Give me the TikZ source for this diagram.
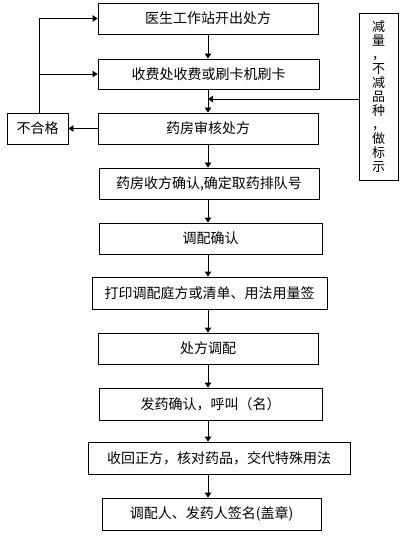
\documentclass[tikz,border=0pt]{standalone}
\usepackage{fontspec}
\setmainfont{Noto Sans CJK SC}
\usepackage{tikz}
\usetikzlibrary{arrows.meta,positioning,calc}
\tikzset{
  basebox/.style={rectangle,draw=black,line width=0.8pt,align=center,inner sep=0pt,
                  font=\fontsize{14}{16}\selectfont},
  procnode/.style={basebox,minimum width=220pt,minimum height=31pt},
  failnode/.style={basebox,minimum width=61pt,minimum height=31pt},
  sidenode/.style={basebox,minimum width=39pt,minimum height=167pt,
                   font=\fontsize{13}{14}\selectfont},
  arr/.style={-{Triangle[length=5pt,width=6.5pt]},line width=0.8pt,color=black},
  plain/.style={line width=0.8pt,color=black}
}

\begin{document}
\begin{tikzpicture}[x=1pt,y=-1pt]
  \useasboundingbox (0,0) rectangle (419,537);

  %% Main flow
  \node[procnode] (doctor) at (208,18.5) {医生工作站开出处方};
  \node[procnode,minimum width=221pt,minimum height=30pt] (pay) at (208.5,74) {收费处收费或刷卡机刷卡};
  \node[procnode] (audit) at (208,128.5) {药房审核处方};
  \node[procnode] (queue) at (209,183.5) {药房收方确认,确定取药排队号};
  \node[procnode,minimum width=223pt] (confirm) at (210.5,238.5) {调配确认};
  \node[procnode,minimum width=235pt,minimum height=32pt] (print) at (209.5,293) {打印调配庭方或清单、用法用量签};
  \node[procnode] (dispense) at (208,348.5) {处方调配};
  \node[procnode,minimum width=223pt,minimum height=32pt] (call) at (210.5,404) {发药确认，呼叫（名）};
  \node[procnode,minimum width=262pt,minimum height=32pt] (check) at (219,458) {收回正方，核对药品，交代特殊用法};
  \node[procnode,minimum width=219pt,minimum height=32pt] (sign) at (211.5,514) {调配人、发药人签名(盖章)};

  %% Side nodes
  \node[failnode] (fail) at (37.5,128.5) {不合格};
  \node[sidenode] (reduce) at (378.5,96.5) {减\\量\\，\\不\\减\\品\\种\\，\\做\\标\\示};

  \coordinate (spine) at (208,0);
  \coordinate (join) at (208,99);
  \coordinate (loop) at (39,0);

  %% Arrows down the flow
  \foreach \a/\b in {doctor/pay,pay/audit,audit/queue,queue/confirm,confirm/print,
                     print/dispense,dispense/call,call/check,check/sign}
    \draw[arr] (\a.south -| spine) -- (\b.north -| spine);

  %% Rejection loop
  \draw[arr] (audit.west) -- (fail.east);
  \draw[arr] (fail.north -| loop) -- (doctor.west -| loop) -- (doctor.west);
  \draw[arr] (pay.west -| loop) -- (pay.west);

  %% Reduction note
  \draw[arr] (reduce.west |- join) -- (join);
\end{tikzpicture}
\end{document}
